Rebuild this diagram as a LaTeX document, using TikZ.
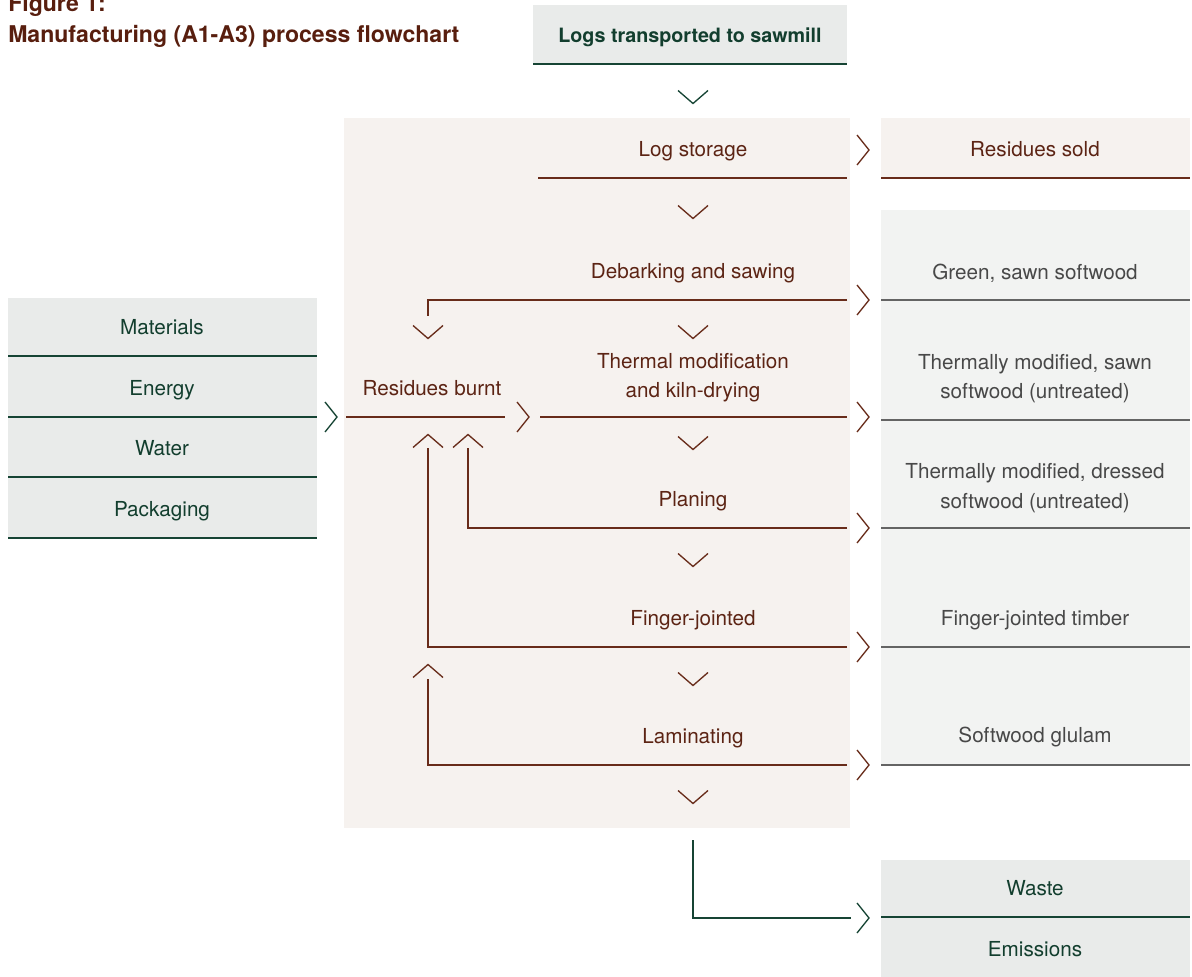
\documentclass[tikz,border=0pt]{standalone}
\usepackage{fontspec}
\setmainfont{TeX Gyre Heros}
\definecolor{brownT}{RGB}{92,36,20}
\definecolor{titleT}{RGB}{88,30,14}
\definecolor{brownL}{RGB}{104,44,26}
\definecolor{greenT}{RGB}{18,62,46}
\definecolor{greenL}{RGB}{22,68,52}
\definecolor{greyT}{RGB}{72,72,72}
\definecolor{greyL}{RGB}{100,100,100}
\definecolor{bgB}{RGB}{246,242,239}
\definecolor{boxG}{RGB}{233,235,234}
\definecolor{panelG}{RGB}{242,243,242}
\begin{document}
\begin{tikzpicture}[x=0.75pt,y=-0.75pt,
  txt/.style={font=\fontsize{15.5}{18}\selectfont, anchor=base, inner sep=0pt},
  btxt/.style={txt, text=brownT},
  gtxt/.style={txt, text=greenT},
  ktxt/.style={txt, text=greyT},
  bline/.style={draw=brownL, line width=1pt},
  gline/.style={draw=greenL, line width=1pt},
  kline/.style={draw=greyL, line width=1pt},
  cdown/.pic={\draw[line width=1pt] (-15,-6.5)--(0,6.5)--(15,-6.5);},
  cup/.pic={\draw[line width=1pt] (-15,6.5)--(0,-6.5)--(15,6.5);},
  cright/.pic={\draw[line width=1pt] (-6,-15)--(6,0)--(-6,15);}
]
\useasboundingbox (0,0) rectangle (1192,977);
% backgrounds
\fill[bgB] (344,118) rectangle (850,828);
\fill[boxG] (533,5) rectangle (847,64);
\draw[gline] (533,64) -- (847,64);
\fill[bgB] (881,118) rectangle (1190,178);
\draw[bline] (881,178) -- (1190,178);
\fill[panelG] (881,210) rectangle (1190,765);
\foreach \yy in {300,420,528,647,765} \draw[kline] (881,\yy) -- (1190,\yy);
\fill[boxG] (8,298) rectangle (317,538);
\foreach \yy in {356,417,477,538} \draw[gline] (8,\yy) -- (317,\yy);
\fill[boxG] (881,860) rectangle (1190,977);
\draw[gline] (881,917) -- (1190,917);

% title
\node[anchor=base west, inner sep=0pt, text=titleT, font=\fontsize{17.3}{20}\selectfont\bfseries] (fig) at (8,12) {Figure 1:};
\node[anchor=base west, inner sep=0pt, text=titleT, font=\fontsize{17.3}{20}\selectfont\bfseries] (title) at (8,43) {Manufacturing (A1-A3) process flowchart};

% texts
\node[gtxt, font=\fontsize{14.8}{18}\selectfont\bfseries] (logs) at (690,43) {Logs transported to sawmill};
\node[btxt] (store) at (693,157) {Log storage};
\node[btxt] (sold) at (1035,157) {Residues sold};
\node[btxt] (debark) at (693,278) {Debarking and sawing};
\node[ktxt] (green) at (1035,279) {Green, sawn softwood};
\node[btxt] (thermA) at (693,368) {Thermal modification};
\node[btxt] (thermB) at (693,397) {and kiln-drying};
\node[btxt] (burnt) at (432,395) {Residues burnt};
\node[ktxt] (tmsA) at (1035,369) {Thermally modified, sawn};
\node[ktxt] (tmsB) at (1035,398) {softwood (untreated)};
\node[btxt] (plan) at (693,506) {Planing};
\node[ktxt] (tmdA) at (1035,478) {Thermally modified, dressed};
\node[ktxt] (tmdB) at (1035,508) {softwood (untreated)};
\node[btxt] (finger) at (693,625) {Finger-jointed};
\node[ktxt] (fjt) at (1035,625) {Finger-jointed timber};
\node[btxt] (lam) at (693,743) {Laminating};
\node[ktxt] (glulam) at (1035,742) {Softwood glulam};
\node[gtxt] (waste) at (1035,895) {Waste};
\node[gtxt] (emis) at (1035,956) {Emissions};
\node[gtxt] (mat) at (162,334) {Materials};
\node[gtxt] (energy) at (162,395) {Energy};
\node[gtxt] (water) at (162,455) {Water};
\node[gtxt] (pack) at (162,516) {Packaging};

% connector end points
\coordinate (storeL) at (538,178);  \coordinate (storeR) at (847,178);
\coordinate (debR) at (847,300);    \coordinate (burnDown) at (428,316);
\coordinate (thermL) at (540,417);  \coordinate (thermR) at (847,417);
\coordinate (burnL) at (346,417);   \coordinate (burnR) at (505,417);
\coordinate (planR) at (847,528);   \coordinate (planUp) at (468,448);
\coordinate (fingR) at (847,647);   \coordinate (fingUp) at (428,448);
\coordinate (lamR) at (847,765);    \coordinate (lamUp) at (428,679);
\coordinate (outTop) at (693,840);  \coordinate (outEnd) at (851,918);

% connectors
\draw[bline] (storeL) -- (storeR);
\draw[bline] (debR) -| (burnDown);
\draw[bline] (thermL) -- (thermR);
\draw[bline] (burnL) -- (burnR);
\draw[bline] (planR) -| (planUp);
\draw[bline] (fingR) -| (fingUp);
\draw[bline] (lamR) -| (lamUp);
\draw[gline] (outTop) |- (outEnd);

% chevrons
\pic[greenL] at (693,97) {cdown};
\foreach \yy in {212,332,443,560,679,797} \pic[brownL] at (693,\yy) {cdown};
\pic[brownL] at (428,332) {cdown};
\pic[brownL] at (428,441) {cup};
\pic[brownL] at (468,441) {cup};
\pic[brownL] at (428,671) {cup};
\foreach \yy in {150,300,417,528,647,765} \pic[brownL] at (863,\yy) {cright};
\pic[brownL] at (523,417) {cright};
\pic[greenL] at (331,417) {cright};
\pic[greenL] at (863,918) {cright};
\end{tikzpicture}
\end{document}
